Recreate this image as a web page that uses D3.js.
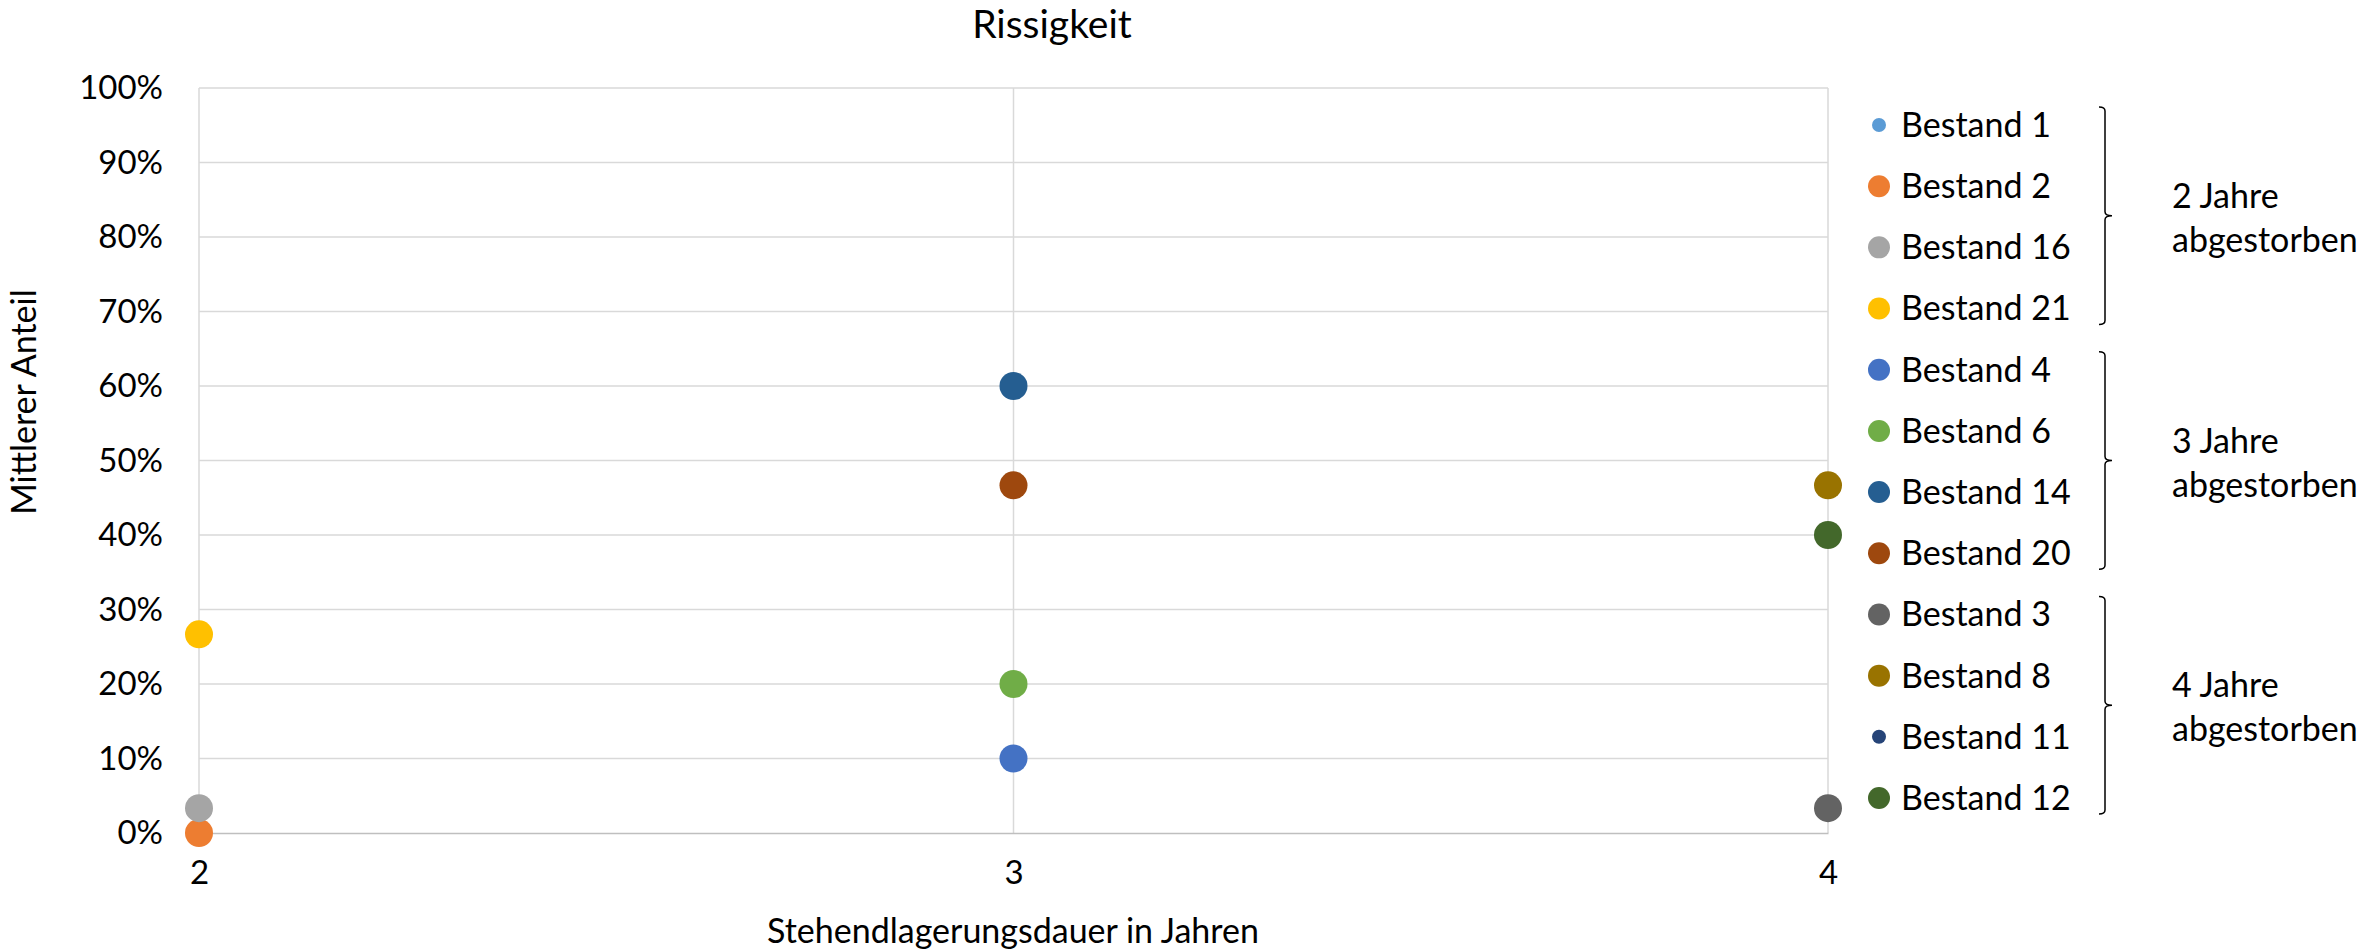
<!DOCTYPE html>
<html lang="de">
<head>
<meta charset="utf-8">
<title>Rissigkeit</title>
<script src="https://cdn.jsdelivr.net/npm/d3@7"></script>
<style>
  html, body { margin: 0; padding: 0; background: #ffffff; }
  svg { display: block; font-family: Lato, "Noto Sans", sans-serif; }
</style>
</head>
<body>
<svg id="chart" width="2361" height="951"></svg>
<script>
// Series (Bestände) in legend order
const seriesNames = ["Bestand 1", "Bestand 2", "Bestand 16", "Bestand 21",
                     "Bestand 4", "Bestand 6", "Bestand 14", "Bestand 20",
                     "Bestand 3", "Bestand 8", "Bestand 11", "Bestand 12"];
// Stehendlagerungsdauer (Jahre) per series; null = no point plotted
const seriesYears = [null, 2, 2, 2, 3, 3, 3, 3, 4, 4, null, 4];
// Mittlerer Anteil per series
const seriesValues = [null, 0.0, 0.0333, 0.2667, 0.10, 0.20, 0.60, 0.4667, 0.0333, 0.4667, null, 0.40];
const seriesColors = ["#5B9BD5", "#ED7D31", "#A5A5A5", "#FFC000",
                      "#4472C4", "#70AD47", "#255E91", "#9E480E",
                      "#636363", "#997300", "#264478", "#43682B"];
// Series drawn with the small marker size
const smallMarker = ["Bestand 1", "Bestand 11"];

// Axis ticks
const xTicks = [2, 3, 4];
const yTicks = [0, 0.1, 0.2, 0.3, 0.4, 0.5, 0.6, 0.7, 0.8, 0.9, 1.0];

// Groups bracketed in the legend
const groupLabels = [["2 Jahre", "abgestorben"], ["3 Jahre", "abgestorben"], ["4 Jahre", "abgestorben"]];
const groupMembers = [[0, 3], [4, 7], [8, 11]];

const svg = d3.select("#chart");

const plot = { left: 199, right: 1828, top: 88, bottom: 833 };
const x = d3.scaleLinear().domain([2, 4]).range([plot.left, plot.right]);
const y = d3.scaleLinear().domain([0, 1]).range([plot.bottom, plot.top]);

// Horizontal gridlines
svg.append("g")
  .selectAll("line")
  .data(yTicks.filter(d => d > 0))
  .join("line")
  .attr("x1", plot.left).attr("x2", plot.right)
  .attr("y1", d => y(d)).attr("y2", d => y(d))
  .attr("stroke", "#d9d9d9").attr("stroke-width", 1.5);

// Vertical gridlines
svg.append("g")
  .selectAll("line")
  .data(xTicks)
  .join("line")
  .attr("x1", d => x(d)).attr("x2", d => x(d))
  .attr("y1", plot.top).attr("y2", plot.bottom)
  .attr("stroke", "#d9d9d9").attr("stroke-width", 1.5);

// Y axis labels
const yAxis = d3.axisLeft(y).tickValues(yTicks).tickFormat(d3.format(".0%")).tickSize(0).tickPadding(36);
svg.append("g")
  .attr("transform", `translate(${plot.left},0)`)
  .call(yAxis)
  .call(g => g.select(".domain").remove())
  .call(g => g.selectAll("text")
    .attr("font-family", "Lato, sans-serif")
    .attr("font-size", 33)
    .attr("fill", "#000"));

// X axis with base line
const xAxis = d3.axisBottom(x).tickValues(xTicks).tickFormat(d3.format("d")).tickSize(0).tickPadding(28);
svg.append("g")
  .attr("transform", `translate(0,${plot.bottom})`)
  .call(xAxis)
  .call(g => g.select(".domain").attr("stroke", "#bfbfbf").attr("stroke-width", 1.5))
  .call(g => g.selectAll("text")
    .attr("font-family", "Lato, sans-serif")
    .attr("font-size", 33)
    .attr("fill", "#000"));

// Points
const points = seriesNames.map((name, i) => ({
  name, year: seriesYears[i], value: seriesValues[i], color: seriesColors[i]
})).filter(d => d.year !== null && d.value !== null);

svg.append("g")
  .selectAll("circle")
  .data(points)
  .join("circle")
  .attr("cx", d => x(d.year))
  .attr("cy", d => y(d.value))
  .attr("r", 14)
  .attr("fill", d => d.color);

// Title
svg.append("text")
  .attr("x", 1052).attr("y", 38)
  .attr("text-anchor", "middle")
  .attr("font-size", 39)
  .attr("fill", "#000")
  .text("Rissigkeit");

// Axis titles
svg.append("text")
  .attr("x", 1013).attr("y", 943)
  .attr("text-anchor", "middle")
  .attr("font-size", 34)
  .attr("fill", "#000")
  .text("Stehendlagerungsdauer in Jahren");

svg.append("text")
  .attr("transform", "translate(36,402) rotate(-90)")
  .attr("text-anchor", "middle")
  .attr("font-size", 34)
  .attr("fill", "#000")
  .text("Mittlerer Anteil");

// Legend
const legendY = d3.scalePoint().domain(seriesNames).range([125, 798]);
const legend = svg.append("g");
const rows = legend.selectAll("g")
  .data(seriesNames)
  .join("g")
  .attr("transform", d => `translate(0,${legendY(d)})`);
rows.append("circle")
  .attr("cx", 1879).attr("cy", 0)
  .attr("r", d => smallMarker.includes(d) ? 7 : 11)
  .attr("fill", (d, i) => seriesColors[i]);
rows.append("text")
  .attr("x", 1901).attr("y", 0)
  .attr("dy", "0.35em")
  .attr("font-size", 34)
  .attr("fill", "#000")
  .text(d => d);

// Brackets and group labels
const bx = 2105;
groupMembers.forEach(([a, b], gi) => {
  const top = legendY(seriesNames[a]) - 18;
  const bot = legendY(seriesNames[b]) + 16;
  const mid = (top + bot) / 2;
  const path = d3.path();
  path.moveTo(bx - 6, top);
  path.quadraticCurveTo(bx, top, bx, top + 4);
  path.lineTo(bx, mid - 4);
  path.quadraticCurveTo(bx, mid, bx + 7, mid);
  path.quadraticCurveTo(bx, mid, bx, mid + 4);
  path.lineTo(bx, bot - 4);
  path.quadraticCurveTo(bx, bot, bx - 6, bot);
  svg.append("path")
    .attr("d", path.toString())
    .attr("fill", "none")
    .attr("stroke", "#000")
    .attr("stroke-width", 1.5);
  const t = svg.append("text")
    .attr("x", 2172)
    .attr("font-size", 34)
    .attr("fill", "#000");
  groupLabels[gi].forEach((line, li) => {
    t.append("tspan")
      .attr("x", 2172)
      .attr("y", mid - 8 + li * 44)
      .text(line);
  });
});
</script>
</body>
</html>
